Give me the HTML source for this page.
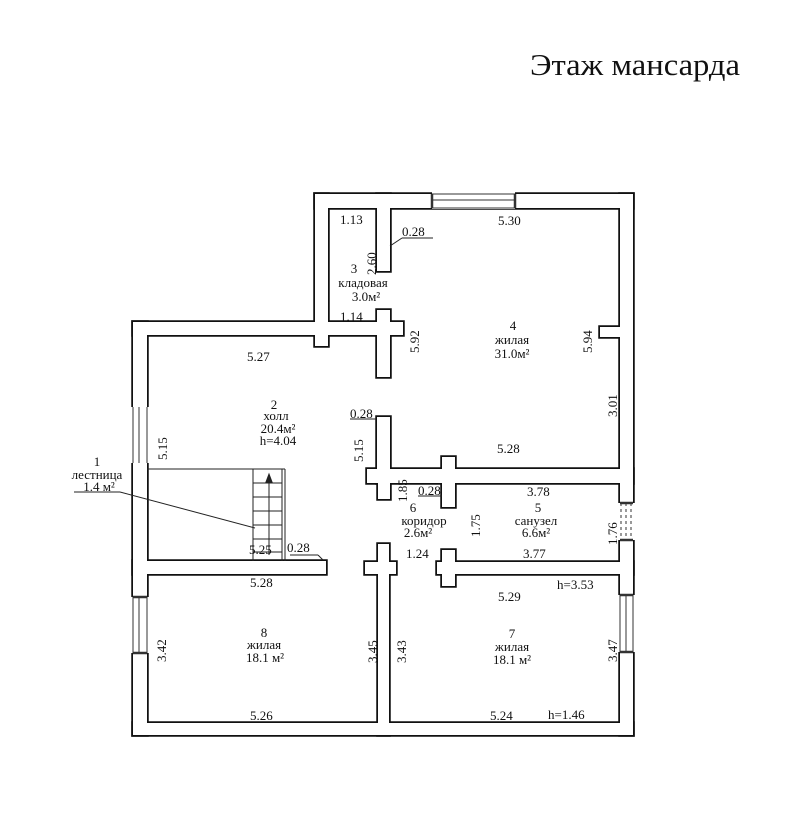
<!DOCTYPE html>
<html><head><meta charset="utf-8"><style>
html,body{margin:0;padding:0;background:#fff}
svg{display:block}
text{font-family:"Liberation Serif","DejaVu Serif",serif;fill:#111;font-size:13px}
</style></head><body>
<svg width="789" height="838" viewBox="0 0 789 838" xmlns="http://www.w3.org/2000/svg">
<rect width="789" height="838" fill="#fff"/>
<text x="530" y="75" style="font-size:31px" textLength="210" lengthAdjust="spacingAndGlyphs">Этаж мансарда</text>
<g id="walls" stroke="#111" stroke-width="3.5" fill="#111">
<rect x="315" y="194" width="318" height="14"/>
<rect x="315" y="194" width="13" height="141"/>
<rect x="377" y="194" width="13" height="77"/>
<rect x="133" y="322" width="257" height="13"/>
<rect x="377" y="310" width="13" height="67"/>
<rect x="377" y="322" width="26" height="13"/>
<rect x="315" y="335" width="13" height="11"/>
<rect x="620" y="194" width="13" height="541"/>
<rect x="600" y="327" width="20" height="10"/>
<rect x="133" y="322" width="14" height="413"/>
<rect x="133" y="723" width="500" height="12"/>
<rect x="377" y="417" width="13" height="66"/>
<rect x="367" y="469" width="266" height="14"/>
<rect x="378" y="483" width="12" height="16"/>
<rect x="442" y="457" width="13" height="12"/>
<rect x="442" y="483" width="13" height="24"/>
<rect x="437" y="562" width="196" height="12"/>
<rect x="442" y="550" width="13" height="36"/>
<rect x="378" y="544" width="11" height="191"/>
<rect x="365" y="562" width="31" height="12"/>
<rect x="133" y="561" width="193" height="13"/>
</g>
<g fill="#fff">
<rect x="315" y="194" width="318" height="14"/>
<rect x="315" y="194" width="13" height="141"/>
<rect x="377" y="194" width="13" height="77"/>
<rect x="133" y="322" width="257" height="13"/>
<rect x="377" y="310" width="13" height="67"/>
<rect x="377" y="322" width="26" height="13"/>
<rect x="315" y="335" width="13" height="11"/>
<rect x="620" y="194" width="13" height="541"/>
<rect x="600" y="327" width="20" height="10"/>
<rect x="133" y="322" width="14" height="413"/>
<rect x="133" y="723" width="500" height="12"/>
<rect x="377" y="417" width="13" height="66"/>
<rect x="367" y="469" width="266" height="14"/>
<rect x="378" y="483" width="12" height="16"/>
<rect x="442" y="457" width="13" height="12"/>
<rect x="442" y="483" width="13" height="24"/>
<rect x="437" y="562" width="196" height="12"/>
<rect x="442" y="550" width="13" height="36"/>
<rect x="378" y="544" width="11" height="191"/>
<rect x="365" y="562" width="31" height="12"/>
<rect x="133" y="561" width="193" height="13"/>
</g>
<!-- windows -->
<g stroke="#333" stroke-width="1" fill="#fff">
<rect x="432" y="192" width="83" height="17" stroke="none"/>
<line x1="432" y1="194" x2="515" y2="194"/><line x1="432" y1="200" x2="515" y2="200"/><line x1="432" y1="208" x2="515" y2="208"/>
<line x1="432" y1="194" x2="432" y2="208" stroke-width="2.5"/><line x1="515" y1="194" x2="515" y2="208" stroke-width="2.5"/>
<rect x="131" y="407" width="18" height="56" stroke="none"/>
<line x1="133" y1="407" x2="133" y2="463"/><line x1="139" y1="407" x2="139" y2="463"/><line x1="147" y1="407" x2="147" y2="463"/>
<rect x="131" y="597" width="18" height="56" stroke="none"/>
<line x1="133" y1="597" x2="133" y2="653"/><line x1="139" y1="597" x2="139" y2="653"/><line x1="147" y1="597" x2="147" y2="653"/>
<line x1="133" y1="597" x2="147" y2="597" stroke-width="2.5"/><line x1="133" y1="653" x2="147" y2="653" stroke-width="2.5"/>
<rect x="618" y="595" width="17" height="57" stroke="none"/>
<line x1="620" y1="595" x2="620" y2="652"/><line x1="626" y1="595" x2="626" y2="652"/><line x1="633" y1="595" x2="633" y2="652"/>
<line x1="620" y1="595" x2="633" y2="595" stroke-width="2.5"/><line x1="620" y1="652" x2="633" y2="652" stroke-width="2.5"/>
<rect x="618" y="503" width="17" height="37" stroke="none"/>
<g stroke-dasharray="3,3"><line x1="621" y1="503" x2="621" y2="540"/><line x1="626" y1="503" x2="626" y2="540"/><line x1="631" y1="503" x2="631" y2="540"/></g>
<line x1="620" y1="503" x2="633" y2="503" stroke-width="2.5"/><line x1="620" y1="540" x2="633" y2="540" stroke-width="2.5"/>
</g>
<!-- stairs -->
<g stroke="#222" stroke-width="1" fill="none">
<line x1="147" y1="469" x2="285" y2="469"/>
<line x1="253" y1="469" x2="253" y2="561"/><line x1="282" y1="469" x2="282" y2="561"/><line x1="285" y1="469" x2="285" y2="561"/>
<line x1="253" y1="483" x2="282" y2="483"/><line x1="253" y1="497" x2="282" y2="497"/><line x1="253" y1="511" x2="282" y2="511"/><line x1="253" y1="525" x2="282" y2="525"/><line x1="253" y1="539" x2="282" y2="539"/><line x1="253" y1="552" x2="282" y2="552"/>
<line x1="269" y1="478" x2="269" y2="555"/>
<polygon points="269,474 266,482 272,482" fill="#222"/>
<line x1="74" y1="492" x2="120" y2="492"/>
<line x1="120" y1="492" x2="255" y2="528"/>
<line x1="290" y1="555" x2="318" y2="555"/><line x1="318" y1="555" x2="323" y2="560"/>
<line x1="402" y1="238" x2="433" y2="238"/><line x1="402" y1="238" x2="390" y2="246"/>
<line x1="350" y1="419" x2="376" y2="419"/>
<line x1="418" y1="496" x2="442" y2="496"/>
</g>
<!-- labels -->
<text x="340" y="224">1.13</text>
<text x="402" y="236">0.28</text>
<text x="498" y="225">5.30</text>
<text transform="translate(376,275) rotate(-90)">2.60</text>
<text x="354" y="273" text-anchor="middle">3</text>
<text x="363" y="287" text-anchor="middle">кладовая</text>
<text x="366" y="301" text-anchor="middle">3.0м²</text>
<text x="340" y="321">1.14</text>
<text x="247" y="361">5.27</text>
<text transform="translate(419,353) rotate(-90)">5.92</text>
<text x="513" y="330" text-anchor="middle">4</text>
<text x="512" y="344" text-anchor="middle">жилая</text>
<text x="512" y="358" text-anchor="middle">31.0м²</text>
<text transform="translate(592,353) rotate(-90)">5.94</text>
<text transform="translate(617,417) rotate(-90)">3.01</text>
<text x="274" y="409" text-anchor="middle">2</text>
<text x="276" y="420" text-anchor="middle">холл</text>
<text x="278" y="433" text-anchor="middle">20.4м²</text>
<text x="278" y="445" text-anchor="middle">h=4.04</text>
<text x="350" y="418">0.28</text>
<text transform="translate(167,460) rotate(-90)">5.15</text>
<text transform="translate(363,462) rotate(-90)">5.15</text>
<text x="497" y="453">5.28</text>
<text x="97" y="466" text-anchor="middle">1</text>
<text x="97" y="479" text-anchor="middle">лестница</text>
<text x="99" y="491" text-anchor="middle">1.4 м²</text>
<text transform="translate(407,502) rotate(-90)">1.85</text>
<text x="418" y="495">0.28</text>
<text x="527" y="496">3.78</text>
<text x="413" y="512" text-anchor="middle">6</text>
<text x="424" y="525" text-anchor="middle">коридор</text>
<text x="418" y="537" text-anchor="middle">2.6м²</text>
<text transform="translate(480,537) rotate(-90)">1.75</text>
<text x="538" y="512" text-anchor="middle">5</text>
<text x="536" y="525" text-anchor="middle">санузел</text>
<text x="536" y="537" text-anchor="middle">6.6м²</text>
<text transform="translate(617,545) rotate(-90)">1.76</text>
<text x="249" y="554">5.25</text>
<text x="287" y="552">0.28</text>
<text x="406" y="558">1.24</text>
<text x="523" y="558">3.77</text>
<text x="250" y="587">5.28</text>
<text x="557" y="589">h=3.53</text>
<text x="498" y="601">5.29</text>
<text x="264" y="637" text-anchor="middle">8</text>
<text x="264" y="649" text-anchor="middle">жилая</text>
<text x="265" y="662" text-anchor="middle">18.1 м²</text>
<text transform="translate(166,662) rotate(-90)">3.42</text>
<text transform="translate(377,663) rotate(-90)">3.45</text>
<text transform="translate(406,663) rotate(-90)">3.43</text>
<text x="512" y="638" text-anchor="middle">7</text>
<text x="512" y="651" text-anchor="middle">жилая</text>
<text x="512" y="664" text-anchor="middle">18.1 м²</text>
<text transform="translate(617,662) rotate(-90)">3.47</text>
<text x="250" y="720">5.26</text>
<text x="490" y="720">5.24</text>
<text x="548" y="719">h=1.46</text>
</svg>
</body></html>
